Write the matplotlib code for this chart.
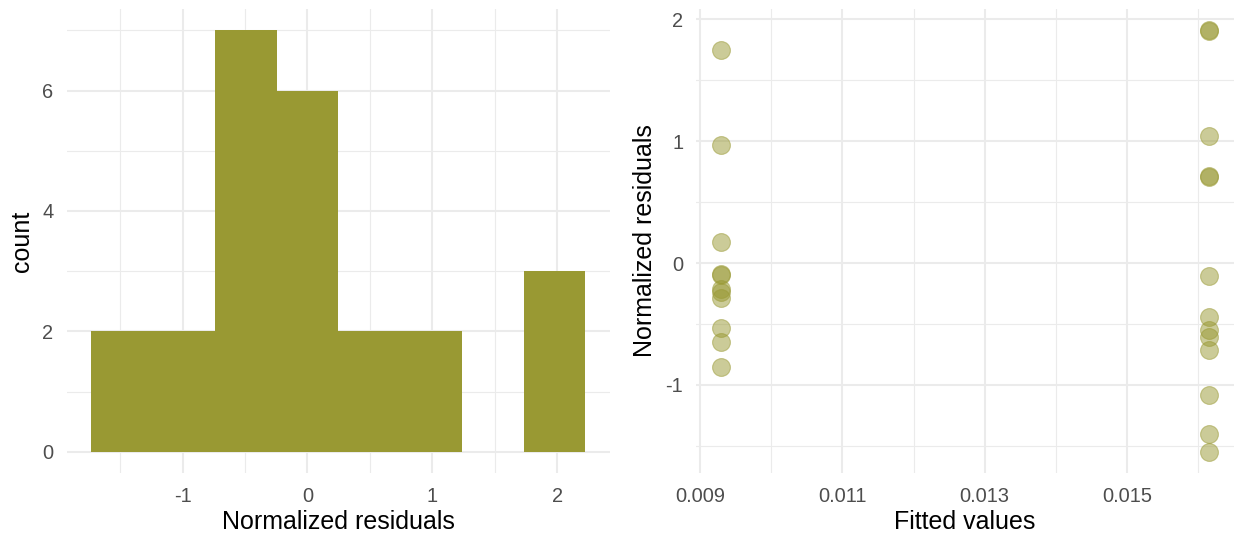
import numpy as np
import matplotlib
matplotlib.use("Agg")
import matplotlib.pyplot as plt
from matplotlib.ticker import FixedLocator

# Model diagnostics: fitted values and normalized residuals (24 observations)
fitted_values = [0.00929] * 11 + [0.016159] * 13
normalized_residuals = [
    1.752, 0.973, 0.172, -0.090, -0.095, -0.215, -0.240, -0.285, -0.537, -0.651, -0.856,
    1.910, 1.905, 1.044, 0.712, 0.708, -0.104, -0.443, -0.546, -0.607, -0.716, -1.087, -1.402, -1.549,
]
hist_bins = 8

hist_ticks = [-1, 0, 1, 2]
count_ticks = [0, 2, 4, 6]
fitted_ticks = [0.009, 0.011, 0.013, 0.015]
resid_ticks = [-1, 0, 1, 2]

COLOR = "#999933"
GRID = "#EBEBEB"
TICK_TXT = "#4D4D4D"
TICK_SIZE = 14.4
TITLE_SIZE = 18

plt.rcParams["font.family"] = ["Liberation Sans", "DejaVu Sans"]

x = np.asarray(normalized_residuals)
fv = np.asarray(fitted_values)

# bin edges in the style of ggplot2's bins= argument
lo, hi = x.min(), x.max()
width = (hi - lo) / (hist_bins - 1)
boundary = width / 2
origin = boundary + np.floor((lo - boundary) / width) * width
edges = origin + width * np.arange(hist_bins + 1)
edges[-1] = max(edges[-1], hi)
counts, _ = np.histogram(x, bins=edges)

fig = plt.figure(figsize=(12.36, 5.40), dpi=100)
W, H = 1236, 540


def axes_px(x0, x1, y0, y1):
    return fig.add_axes([x0 / W, 1 - y1 / H, (x1 - x0) / W, (y1 - y0) / H])


def style(ax, xmajor, xminor, ymajor, yminor):
    for s in ax.spines.values():
        s.set_visible(False)
    ax.set_axisbelow(True)
    ax.xaxis.set_major_locator(FixedLocator(xmajor))
    ax.xaxis.set_minor_locator(FixedLocator(xminor))
    ax.yaxis.set_major_locator(FixedLocator(ymajor))
    ax.yaxis.set_minor_locator(FixedLocator(yminor))
    ax.grid(True, which="major", color=GRID, linewidth=1.5)
    ax.grid(True, which="minor", color=GRID, linewidth=0.8)
    ax.tick_params(which="both", length=0)
    ax.tick_params(axis="x", which="major", pad=10, labelsize=TICK_SIZE, labelcolor=TICK_TXT)
    ax.tick_params(axis="y", which="major", pad=9.5, labelsize=TICK_SIZE, labelcolor=TICK_TXT)


def expand(a, b, f=0.05):
    d = (b - a) * f
    return a - d, b + d


# ---- histogram of residuals ----
ax1 = axes_px(66.7, 610, 9.3, 472.8)
ax1.bar(edges[:-1], counts, width=np.diff(edges), align="edge", color=COLOR, linewidth=0)
ax1.set_xlim(*expand(edges[0], edges[-1]))
ax1.set_ylim(*expand(0, counts.max()))
style(ax1, hist_ticks, [-1.5, -0.5, 0.5, 1.5], count_ticks, [1, 3, 5, 7])
ax1.set_xticklabels([f"{t:g}" for t in hist_ticks])
ax1.set_yticklabels([f"{t:g}" for t in count_ticks])
ax1.set_xlabel("Normalized residuals", fontsize=TITLE_SIZE, labelpad=3)
ax1.set_ylabel("count", fontsize=TITLE_SIZE, labelpad=6)

# ---- residuals vs fitted ----
ax2 = axes_px(696.5, 1233.6, 9.3, 472.8)
ax2.scatter(fv, x, s=165, color=COLOR, alpha=0.5, edgecolors=COLOR, linewidths=0.8, zorder=3)
ax2.set_xlim(*expand(fv.min(), fv.max()))
ax2.set_ylim(*expand(x.min(), x.max()))
style(ax2, fitted_ticks, [0.010, 0.012, 0.014, 0.016], resid_ticks, [-1.5, -0.5, 0.5, 1.5])
ax2.set_xticklabels([f"{t:g}" for t in fitted_ticks])
ax2.set_yticklabels([f"{t:g}" for t in resid_ticks])
ax2.set_xlabel("Fitted values", fontsize=TITLE_SIZE, labelpad=3)
ax2.set_ylabel("Normalized residuals", fontsize=TITLE_SIZE, labelpad=6)

fig.savefig("out.png", dpi=100, facecolor="white")
